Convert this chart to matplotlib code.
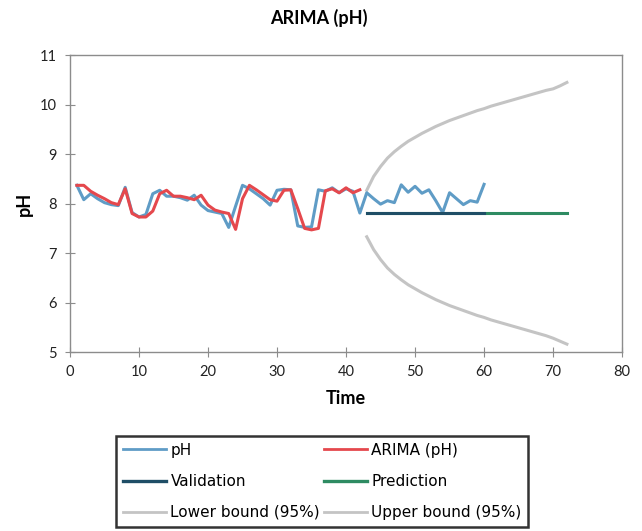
import matplotlib
matplotlib.use('Agg')
import matplotlib.pyplot as plt
from matplotlib.lines import Line2D

# observed pH, t = 1..60
ph_time = list(range(1, 61))
ph_values = [8.37, 8.08, 8.20, 8.10, 8.02, 7.98, 7.96, 8.33, 7.82, 7.73,
             7.78, 8.20, 8.27, 8.15, 8.15, 8.12, 8.07, 8.17, 7.97, 7.86,
             7.83, 7.80, 7.52, 7.95, 8.37, 8.30, 8.20, 8.10, 7.97, 8.27,
             8.29, 8.28, 7.55, 7.52, 7.53, 8.28, 8.25, 8.32, 8.22, 8.30,
             8.25, 7.81, 8.22, 8.10, 7.99, 8.06, 8.02, 8.38, 8.23, 8.35,
             8.21, 8.28, 8.06, 7.82, 8.22, 8.10, 7.98, 8.06, 8.03, 8.39]

# fitted ARIMA, t = 1..42
fit_time = list(range(1, 43))
fit_values = [8.37, 8.37, 8.25, 8.17, 8.10, 8.02, 7.98, 8.30, 7.80, 7.73,
              7.73, 7.85, 8.20, 8.27, 8.15, 8.15, 8.12, 8.08, 8.17, 7.97,
              7.87, 7.83, 7.80, 7.48, 8.10, 8.37, 8.28, 8.18, 8.08, 8.05,
              8.27, 8.28, 7.90, 7.50, 7.47, 7.50, 8.26, 8.30, 8.22, 8.32,
              8.22, 8.28]

# validation (t = 43..60) and prediction (t = 43..72)
val_time = list(range(43, 61))
val_values = [7.81] * len(val_time)
pred_time = list(range(43, 73))
pred_values = [7.81] * len(pred_time)

upper_values = [8.27, 8.55, 8.75, 8.92, 9.05, 9.16, 9.26, 9.34, 9.42, 9.49,
                9.56, 9.62, 9.68, 9.73, 9.78, 9.83, 9.88, 9.92, 9.97, 10.01,
                10.05, 10.09, 10.13, 10.17, 10.21, 10.25, 10.29, 10.32, 10.38, 10.45]
lower_values = [7.33, 7.07, 6.87, 6.70, 6.57, 6.46, 6.36, 6.28, 6.20, 6.13,
                6.06, 6.00, 5.94, 5.89, 5.84, 5.79, 5.74, 5.70, 5.65, 5.61,
                5.57, 5.53, 5.49, 5.45, 5.41, 5.37, 5.33, 5.28, 5.22, 5.16]

C_PH = '#5f9cc6'
C_FIT = '#e5484d'
C_VAL = '#1f4e66'
C_PRED = '#2e8b62'
C_BOUND = '#c4c4c4'
C_AXIS = '#8c8c8c'

fig = plt.figure(figsize=(6.42, 5.31), dpi=100)
ax = fig.add_axes([0.109, 0.337, 0.86, 0.559])

lw = 2.2
ax.plot(pred_time, lower_values, color=C_BOUND, lw=lw)
ax.plot(pred_time, upper_values, color=C_BOUND, lw=lw)
ax.plot(ph_time, ph_values, color=C_PH, lw=lw)
ax.plot(fit_time, fit_values, color=C_FIT, lw=lw)
ax.plot(pred_time, pred_values, color=C_PRED, lw=lw)
ax.plot(val_time, val_values, color=C_VAL, lw=lw)

ax.set_xlim(0, 80)
ax.set_ylim(5, 11)
ax.set_xticks(range(0, 81, 10))
ax.set_yticks(range(5, 12))
for s in ax.spines.values():
    s.set_color(C_AXIS)
    s.set_linewidth(1.0)
ax.tick_params(direction='inout', length=7, color=C_AXIS, labelsize=10.5,
               labelcolor='#222222', pad=6)
for lab in ax.get_xticklabels() + ax.get_yticklabels():
    lab.set_family('Lato')

ax.set_xlabel('Time', fontsize=13, fontweight='bold', family='Lato', labelpad=8)
ax.set_ylabel('pH', fontsize=13, fontweight='bold', family='Lato', labelpad=5)
fig.text(0.496, 0.966, 'ARIMA (pH)', ha='center', va='center',
         fontsize=13, fontweight='bold', family='Lato')

handles = [
    Line2D([], [], color=C_PH, lw=2),
    Line2D([], [], color=C_FIT, lw=2),
    Line2D([], [], color=C_VAL, lw=2.4),
    Line2D([], [], color=C_PRED, lw=2.4),
    Line2D([], [], color=C_BOUND, lw=2),
    Line2D([], [], color=C_BOUND, lw=2),
]
labels = ['pH', 'ARIMA (pH)', 'Validation', 'Prediction',
          'Lower bound (95%)', 'Upper bound (95%)']
# legend fills row-wise: reorder for column-major layout
order = [0, 2, 4, 1, 3, 5]
leg = fig.legend([handles[i] for i in order], [labels[i] for i in order],
                 loc='center', bbox_to_anchor=(0.502, 0.0935), ncol=2,
                 frameon=True, fancybox=False, edgecolor='black',
                 prop={'family': 'DejaVu Sans', 'size': 11.0},
                 handlelength=2.8, handletextpad=0.3, columnspacing=0.25,
                 labelspacing=1.05, borderpad=0.45, borderaxespad=0)
leg.get_frame().set_linewidth(1.8)

fig.savefig('out.png', dpi=100, facecolor='white')
